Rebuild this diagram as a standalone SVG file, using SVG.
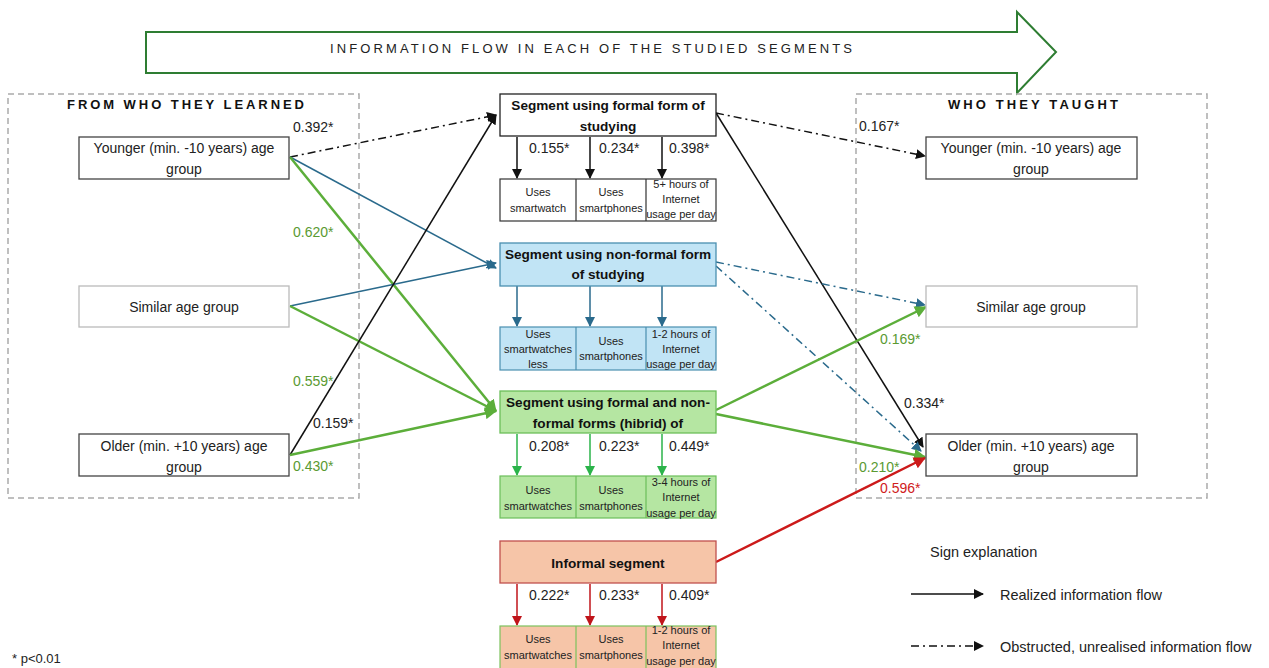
<svg xmlns="http://www.w3.org/2000/svg" width="1269" height="668" viewBox="0 0 1269 668">
<style>
text{font-family:"Liberation Sans",Arial,sans-serif;fill:#222}
.n{font-size:14px;text-anchor:middle}
.b{font-size:13.6px;font-weight:bold;text-anchor:middle;fill:#111}
.s{font-size:11px;text-anchor:middle}
.l{font-size:14px}
.g{fill:#5a9a32}
.r{fill:#d0201c}
.h{font-size:13px;font-weight:bold;fill:#111}
.box{fill:#fff;stroke:#444;stroke-width:1.3}
.lbox{fill:#fff;stroke:#bbb;stroke-width:1.3}
.dash{fill:none;stroke:#aaa;stroke-width:1.5;stroke-dasharray:6 4}
.k{stroke:#111;stroke-width:1.5;fill:none}
.bl{stroke:#2a6a8c;stroke-width:1.5;fill:none}
.gr{stroke:#5cae3a;stroke-width:2.5;fill:none}
.rd{stroke:#cc1a1a;stroke-width:2.5;fill:none}
.dd{stroke-dasharray:8 4 2 4}
.lg{font-size:14.5px}
</style>
<defs>
<marker id="mk" markerWidth="10" markerHeight="10" refX="9" refY="5" orient="auto" markerUnits="userSpaceOnUse"><path d="M0,0 L10,5 L0,10 z" fill="#111"/></marker>
<marker id="mb" markerWidth="10" markerHeight="10" refX="9" refY="5" orient="auto" markerUnits="userSpaceOnUse"><path d="M0,0 L10,5 L0,10 z" fill="#2a6a8c"/></marker>
<marker id="mg" markerWidth="12" markerHeight="12" refX="11" refY="6" orient="auto" markerUnits="userSpaceOnUse"><path d="M0,0 L12,6 L0,12 z" fill="#5cae3a"/></marker>
<marker id="mg2" markerWidth="10" markerHeight="10" refX="9" refY="5" orient="auto" markerUnits="userSpaceOnUse"><path d="M0,0 L10,5 L0,10 z" fill="#2bb34a"/></marker>
<marker id="mr" markerWidth="12" markerHeight="12" refX="11" refY="6" orient="auto" markerUnits="userSpaceOnUse"><path d="M0,0 L12,6 L0,12 z" fill="#cc1a1a"/></marker>
<marker id="mr2" markerWidth="10" markerHeight="10" refX="9" refY="5" orient="auto" markerUnits="userSpaceOnUse"><path d="M0,0 L10,5 L0,10 z" fill="#c0141a"/></marker>
</defs>

<g id="flow-arrow">
<path d="M146,32 L1017,32 L1017,12 L1056,52 L1017,93 L1017,73 L146,73 Z" fill="#fff" stroke="#2e7d32" stroke-width="2"/>
<text x="330" y="53" font-size="13" textLength="522" lengthAdjust="spacing" style="fill:#222">INFORMATION FLOW IN EACH OF THE STUDIED SEGMENTS</text>
</g>

<g id="left-group">
<rect class="dash" x="8" y="94" width="351" height="404"/>
<text class="h" x="67" y="109" textLength="237" lengthAdjust="spacing">FROM WHO THEY LEARNED</text>
</g>
<g id="right-group">
<rect class="dash" x="856" y="94" width="351" height="404"/>
<text class="h" x="948" y="109" textLength="170" lengthAdjust="spacing">WHO THEY TAUGHT</text>
</g>

<g id="connectors">
<path class="k dd" d="M290,157 L496,115" marker-end="url(#mk)"/>
<path class="bl" d="M290,157 L496,268" marker-end="url(#mb)"/>
<path class="gr" d="M290,157 L496,411" marker-end="url(#mg)"/>
<path class="bl" d="M290,306 L496,263" marker-end="url(#mb)"/>
<path class="gr" d="M290,306 L496,411" marker-end="url(#mg)"/>
<path class="k" d="M290,455 L496,115" marker-end="url(#mk)"/>
<path class="gr" d="M290,455 L496,411" marker-end="url(#mg)"/>
<path class="k dd" d="M716,113 L925,156" marker-end="url(#mk)"/>
<path class="k" d="M716,113 L923,447" marker-end="url(#mk)"/>
<path class="bl dd" d="M716,262 L925,305" marker-end="url(#mb)"/>
<path class="bl dd" d="M716,266 L921,451" marker-end="url(#mb)"/>
<path class="gr" d="M716,410 L926,307" marker-end="url(#mg)"/>
<path class="gr" d="M716,414 L925,457" marker-end="url(#mg)"/>
<path class="rd" d="M716,562 L925,458" marker-end="url(#mr)"/>
<path class="k" d="M517,137 V178" marker-end="url(#mk)"/>
<path class="k" d="M590,137 V178" marker-end="url(#mk)"/>
<path class="k" d="M662,137 V178" marker-end="url(#mk)"/>
<path class="bl" d="M517,286 V326" marker-end="url(#mb)"/>
<path class="bl" d="M590,286 V326" marker-end="url(#mb)"/>
<path class="bl" d="M662,286 V326" marker-end="url(#mb)"/>
<path stroke="#2bb34a" stroke-width="1.5" d="M517,434 V475" marker-end="url(#mg2)"/>
<path stroke="#2bb34a" stroke-width="1.5" d="M590,434 V475" marker-end="url(#mg2)"/>
<path stroke="#2bb34a" stroke-width="1.5" d="M662,434 V475" marker-end="url(#mg2)"/>
<path stroke="#c0141a" stroke-width="1.5" d="M517,584 V625" marker-end="url(#mr2)"/>
<path stroke="#c0141a" stroke-width="1.5" d="M590,584 V625" marker-end="url(#mr2)"/>
<path stroke="#c0141a" stroke-width="1.5" d="M662,584 V625" marker-end="url(#mr2)"/>
<text class="l" x="293" y="132">0.392*</text>
<text class="l g" x="293" y="237">0.620*</text>
<text class="l g" x="293" y="386">0.559*</text>
<text class="l" x="313" y="428">0.159*</text>
<text class="l g" x="293" y="471">0.430*</text>
<text class="l" x="859" y="131">0.167*</text>
<text class="l g" x="880" y="344">0.169*</text>
<text class="l" x="904" y="408">0.334*</text>
<text class="l g" x="859" y="472">0.210*</text>
<text class="l r" x="880" y="493">0.596*</text>
</g>

<g id="left-younger"><rect class="box" x="79" y="137" width="210" height="42"/><text class="n" x="184" y="153">Younger (min. -10 years) age</text><text class="n" x="184" y="174">group</text></g>
<g id="left-similar"><rect class="lbox" x="79" y="286" width="210" height="41"/><text class="n" x="184" y="312">Similar age group</text></g>
<g id="left-older"><rect class="box" x="79" y="434" width="210" height="42"/><text class="n" x="184" y="451">Older (min. +10 years) age</text><text class="n" x="184" y="472">group</text></g>

<g id="right-younger"><rect class="box" x="926" y="137" width="211" height="42"/><text class="n" x="1031" y="153">Younger (min. -10 years) age</text><text class="n" x="1031" y="174">group</text></g>
<g id="right-similar"><rect class="lbox" x="926" y="286" width="211" height="41"/><text class="n" x="1031" y="312">Similar age group</text></g>
<g id="right-older"><rect class="box" x="926" y="434" width="211" height="42"/><text class="n" x="1031" y="451">Older (min. +10 years) age</text><text class="n" x="1031" y="472">group</text></g>

<g id="seg-formal">
<rect x="500" y="94" width="216" height="42" fill="#fff" stroke="#222" stroke-width="1.3"/>
<text class="b" x="608" y="110">Segment using formal form of</text>
<text class="b" x="608" y="131">studying</text>
<text class="l" x="529" y="153">0.155*</text><text class="l" x="599" y="153">0.234*</text><text class="l" x="669" y="153">0.398*</text>
</g>
<g id="seg-formal-attrs">
<rect x="500" y="179" width="216" height="42" fill="#fff" stroke="#333" stroke-width="1.2"/>
<path d="M576,179 V221 M646,179 V221" stroke="#333" stroke-width="1.2"/>
<text class="s" x="538" y="196">Uses</text><text class="s" x="538" y="212">smartwatch</text>
<text class="s" x="611" y="196">Uses</text><text class="s" x="611" y="212">smartphones</text>
<text class="s" x="681" y="188">5+ hours of</text><text class="s" x="681" y="203">Internet</text><text class="s" x="681" y="218">usage per day</text>
</g>

<g id="seg-nonformal">
<rect x="500" y="243" width="216" height="43" fill="#c1e4f5" stroke="#4a8fb0" stroke-width="1.3"/>
<text class="b" x="608" y="259">Segment using non-formal form</text>
<text class="b" x="608" y="279">of studying</text>
</g>
<g id="seg-nonformal-attrs">
<rect x="500" y="327" width="216" height="43" fill="#c1e4f5" stroke="#4a8fb0" stroke-width="1.2"/>
<path d="M576,327 V370 M646,327 V370" stroke="#4a8fb0" stroke-width="1.2"/>
<text class="s" x="538" y="338">Uses</text><text class="s" x="538" y="353">smartwatches</text><text class="s" x="538" y="368">less</text>
<text class="s" x="611" y="345">Uses</text><text class="s" x="611" y="360">smartphones</text>
<text class="s" x="681" y="338">1-2 hours of</text><text class="s" x="681" y="353">Internet</text><text class="s" x="681" y="368">usage per day</text>
</g>

<g id="seg-hybrid">
<rect x="500" y="391" width="216" height="42" fill="#b5e6a2" stroke="#6cbf5a" stroke-width="1.3"/>
<text class="b" x="608" y="407">Segment using formal and non-</text>
<text class="b" x="608" y="428">formal forms (hibrid) of</text>
<text class="l" x="529" y="451">0.208*</text><text class="l" x="599" y="451">0.223*</text><text class="l" x="669" y="451">0.449*</text>
</g>
<g id="seg-hybrid-attrs">
<rect x="500" y="476" width="216" height="42" fill="#b5e6a2" stroke="#6cbf5a" stroke-width="1.2"/>
<path d="M576,476 V518 M646,476 V518" stroke="#6cbf5a" stroke-width="1.2"/>
<text class="s" x="538" y="494">Uses</text><text class="s" x="538" y="510">smartwatches</text>
<text class="s" x="611" y="494">Uses</text><text class="s" x="611" y="510">smartphones</text>
<text class="s" x="681" y="486">3-4 hours of</text><text class="s" x="681" y="501">Internet</text><text class="s" x="681" y="517">usage per day</text>
</g>

<g id="seg-informal">
<rect x="500" y="541" width="216" height="42" fill="#f6c5a8" stroke="#c0504d" stroke-width="1.3"/>
<text class="b" x="608" y="568">Informal segment</text>
<text class="l" x="529" y="600">0.222*</text><text class="l" x="599" y="600">0.233*</text><text class="l" x="669" y="600">0.409*</text>
</g>
<g id="seg-informal-attrs">
<rect x="500" y="626" width="216" height="44" fill="#f6c5a8" stroke="#7cc25e" stroke-width="1.2"/>
<path d="M576,626 V668 M646,626 V668" stroke="#7cc25e" stroke-width="1.2"/>
<text class="s" x="538" y="643">Uses</text><text class="s" x="538" y="659">smartwatches</text>
<text class="s" x="611" y="643">Uses</text><text class="s" x="611" y="659">smartphones</text>
<text class="s" x="681" y="634">1-2 hours of</text><text class="s" x="681" y="649">Internet</text><text class="s" x="681" y="665">usage per day</text>
</g>

<g id="legend">
<text class="lg" x="930" y="557">Sign explanation</text>
<path class="k" d="M911,594 H983" marker-end="url(#mk)"/>
<text class="lg" x="1000" y="600">Realized information flow</text>
<path class="k dd" d="M911,646 H983" marker-end="url(#mk)"/>
<text class="lg" x="1000" y="652">Obstructed, unrealised information flow</text>
</g>
<g id="note"><text x="12" y="663" font-size="13">* p&lt;0.01</text></g>
</svg>
